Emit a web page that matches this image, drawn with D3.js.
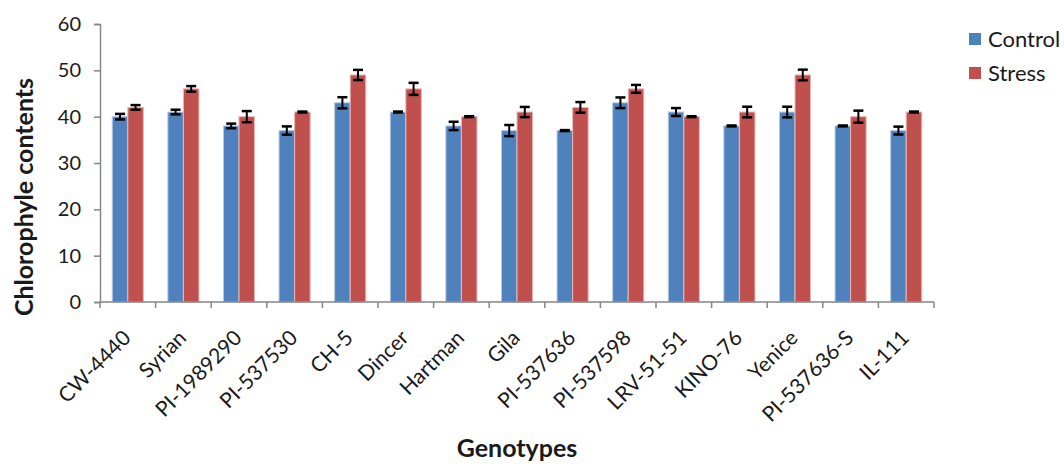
<!DOCTYPE html>
<html>
<head>
<meta charset="utf-8">
<script src="https://cdn.jsdelivr.net/npm/d3@7"></script>
<style>
  body { margin: 0; background: #fff; }
  svg text { font-family: Lato, "Open Sans", sans-serif; fill: #1a1a1a; }
</style>
</head>
<body>
<div id="chart"></div>
<script>
// chlorophyll data per genotype
const genotypes = ["CW-4440", "Syrian", "PI-1989290", "PI-537530", "CH-5", "Dincer", "Hartman", "Gila",
  "PI-537636", "PI-537598", "LRV-51-51", "KINO-76", "Yenice", "PI-537636-S", "IL-111"];
const control = [40, 41, 38, 37, 43, 41, 38, 37, 37, 43, 41, 38, 41, 38, 37];
const controlErr = [0.6, 0.5, 0.5, 0.9, 1.2, 0.1, 0.9, 1.2, 0.1, 1.15, 0.85, 0.1, 1.15, 0.1, 0.85];
const stress = [42, 46, 40, 41, 49, 46, 40, 41, 42, 46, 40, 41, 49, 40, 41];
const stressErr = [0.5, 0.6, 1.2, 0.1, 1.1, 1.3, 0.1, 1.1, 1.15, 0.85, 0.1, 1.15, 1.15, 1.3, 0.1];
const seriesNames = ["Control", "Stress"];
const colors = ["#4f81bd", "#c0504d"];
const yTicks = [0, 10, 20, 30, 40, 50, 60];

const width = 1064, height = 464;
const margin = { top: 24, right: 130, bottom: 162, left: 100 };

const svg = d3.select("#chart").append("svg")
  .attr("width", width)
  .attr("height", height);

const x = d3.scaleBand()
  .domain(genotypes)
  .range([margin.left, width - margin.right])
  .paddingInner(0.44)
  .paddingOuter(0.22);

const inner = d3.scaleBand()
  .domain(seriesNames)
  .range([0, x.bandwidth()]);

const y = d3.scaleLinear()
  .domain([0, 60])
  .range([height - margin.bottom, margin.top]);

// y axis
const yAxis = svg.append("g")
  .attr("transform", `translate(${margin.left},0)`)
  .call(d3.axisLeft(y).tickValues(yTicks).tickSize(6).tickPadding(13));
yAxis.select(".domain").attr("stroke", "#868686").attr("stroke-width", 1.5);
yAxis.selectAll(".tick line").attr("stroke", "#868686").attr("stroke-width", 1.5);
yAxis.selectAll(".tick text").style("font-size", "20px").attr("fill", "#262626");

// bars
const data = genotypes.map((g, i) => ({
  name: g,
  values: [
    { s: "Control", v: control[i], e: controlErr[i] },
    { s: "Stress", v: stress[i], e: stressErr[i] }
  ]
}));

const groups = svg.append("g")
  .selectAll("g")
  .data(data)
  .enter().append("g")
  .attr("transform", d => `translate(${x(d.name)},0)`);

groups.selectAll("rect")
  .data(d => d.values)
  .enter().append("rect")
  .attr("x", d => inner(d.s))
  .attr("y", d => y(d.v))
  .attr("width", inner.bandwidth())
  .attr("height", d => y(0) - y(d.v))
  .attr("fill", (d, i) => colors[i])
  .attr("stroke", (d, i) => i === 0 ? "#b9cde5" : "#e6b9b8")
  .attr("stroke-width", 1);

// error bars
const capW = 10;
const err = groups.selectAll("g.err")
  .data(d => d.values)
  .enter().append("g")
  .attr("class", "err")
  .attr("stroke", "#000")
  .attr("stroke-width", 2);
err.append("line")
  .attr("x1", d => inner(d.s) + inner.bandwidth() / 2)
  .attr("x2", d => inner(d.s) + inner.bandwidth() / 2)
  .attr("y1", d => y(d.v + d.e))
  .attr("y2", d => y(d.v - d.e));
err.append("line")
  .attr("x1", d => inner(d.s) + inner.bandwidth() / 2 - capW / 2)
  .attr("x2", d => inner(d.s) + inner.bandwidth() / 2 + capW / 2)
  .attr("y1", d => y(d.v + d.e))
  .attr("y2", d => y(d.v + d.e))
  .attr("stroke-width", 2.5);
err.append("line")
  .attr("x1", d => inner(d.s) + inner.bandwidth() / 2 - capW / 2)
  .attr("x2", d => inner(d.s) + inner.bandwidth() / 2 + capW / 2)
  .attr("y1", d => y(d.v - d.e))
  .attr("y2", d => y(d.v - d.e))
  .attr("stroke-width", 2.5);

// x axis with ticks between categories
const step = x.step();
const x0 = margin.left, x1 = width - margin.right;
const xAxis = svg.append("g");
xAxis.append("line")
  .attr("x1", x0).attr("x2", x1)
  .attr("y1", y(0)).attr("y2", y(0))
  .attr("stroke", "#868686").attr("stroke-width", 1.5);
xAxis.selectAll("line.tick")
  .data(d3.range(genotypes.length + 1))
  .enter().append("line")
  .attr("class", "tick")
  .attr("x1", i => x0 + i * step).attr("x2", i => x0 + i * step)
  .attr("y1", y(0)).attr("y2", y(0) + 6)
  .attr("stroke", "#868686").attr("stroke-width", 1.5);
xAxis.selectAll("text")
  .data(genotypes)
  .enter().append("text")
  .attr("transform", d => `translate(${x(d) + x.bandwidth() / 2 - 1},${y(0) + 32}) rotate(-45)`)
  .attr("text-anchor", "end")
  .attr("dy", "0.35em")
  .style("font-size", "21px")
  .attr("fill", "#262626")
  .text(d => d);

// axis titles
svg.append("text")
  .attr("transform", `translate(33,197) rotate(-90)`)
  .attr("text-anchor", "middle")
  .style("font-size", "25px")
  .style("font-weight", "bold")
  .text("Chlorophyle contents");

svg.append("text")
  .attr("x", 517)
  .attr("y", 457)
  .attr("text-anchor", "middle")
  .style("font-size", "25px")
  .style("font-weight", "bold")
  .text("Genotypes");

// legend
const legend = svg.append("g")
  .attr("transform", "translate(969,33)")
  .selectAll("g")
  .data(seriesNames)
  .enter().append("g")
  .attr("transform", (d, i) => `translate(0,${i * 34})`);
legend.append("rect")
  .attr("width", 12).attr("height", 12)
  .attr("fill", (d, i) => colors[i]);
legend.append("text")
  .attr("x", 19).attr("y", 6)
  .attr("dy", "0.35em")
  .style("font-size", "22px")
  .attr("fill", "#262626")
  .text(d => d);
</script>
</body>
</html>
